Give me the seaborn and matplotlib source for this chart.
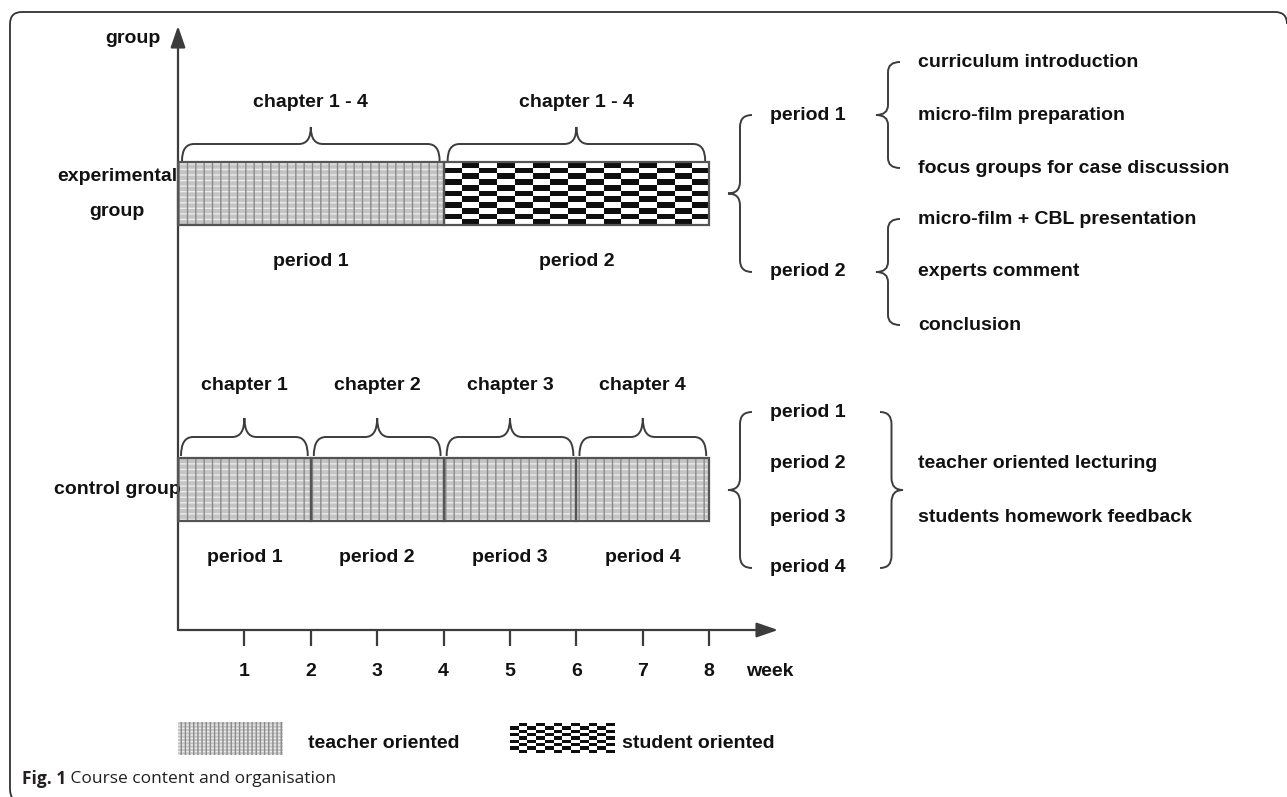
import numpy as np
import matplotlib.pyplot as plt
from matplotlib.path import Path
from matplotlib.patches import PathPatch
from matplotlib.colors import ListedColormap
import seaborn as sns

# ---- data -------------------------------------------------------------
weeks = [1, 2, 3, 4, 5, 6, 7, 8]

exp_start = [0, 4]
exp_length = [4, 4]
exp_mode = ["teacher", "student"]
exp_chapters = ["chapter 1 - 4", "chapter 1 - 4"]
exp_periods = ["period 1", "period 2"]
exp_content = [["curriculum introduction", "micro-film preparation", "focus groups for case discussion"],
               ["micro-film + CBL presentation", "experts comment", "conclusion"]]

ctrl_start = [0, 2, 4, 6]
ctrl_length = [2, 2, 2, 2]
ctrl_mode = ["teacher", "teacher", "teacher", "teacher"]
ctrl_chapters = ["chapter 1", "chapter 2", "chapter 3", "chapter 4"]
ctrl_periods = ["period 1", "period 2", "period 3", "period 4"]
ctrl_content = ["teacher oriented lecturing", "students homework feedback"]

group_labels = ["experimental\ngroup", "control group"]
legend_labels = ["teacher oriented", "student oriented"]

# ---- layout -----------------------------------------------------------
W, H = 1287, 797
X0, SX = 178, 66.4          # pixel of week 0, pixels per week
LINE = "#3c3c3c"
FS = 14

sns.set_theme(style="white")
plt.rcParams["font.family"] = ["Liberation Sans", "DejaVu Sans"]
plt.rcParams["hatch.linewidth"] = 1.0

fig = plt.figure(figsize=(W / 100, H / 100), dpi=100)
canvas = fig.add_axes([0, 0, 1, 1])
canvas.set_xlim(0, W)
canvas.set_ylim(H, 0)
canvas.axis("off")
ax = fig.add_axes([0, 0, 1, 1])
ax.patch.set_alpha(0)


def wk(px):
    return (px - X0) / SX


def px(w):
    return X0 + SX * w


def label(x, y, s, ha="center", **kw):
    ax.text(x, y, s, fontsize=FS, fontweight="bold", color="#111111",
            ha=ha, va="center", **kw)


def brace(p0, p1, tip, depth, r=10):
    p0 = np.array(p0, float)
    p1 = np.array(p1, float)
    L = np.hypot(*(p1 - p0))
    u = (p1 - p0) / L
    n = np.array(tip, float)
    h = depth / 2
    local = [(0, 0), (0, h), (r, h), (L / 2 - r, h), (L / 2, h), (L / 2, depth),
             (L / 2, h), (L / 2 + r, h), (L - r, h), (L, h), (L, 0)]
    pts = [p0 + s * u + t * n for s, t in local]
    verts = [(wk(x), y) for x, y in pts]
    codes = [Path.MOVETO, Path.CURVE3, Path.CURVE3, Path.LINETO, Path.CURVE3, Path.CURVE3,
             Path.CURVE3, Path.CURVE3, Path.LINETO, Path.CURVE3, Path.CURVE3]
    ax.add_patch(PathPatch(Path(verts, codes), fill=False, ec=LINE, lw=1.4))


def bar(y, left, width, height, mode, outline=True, cell=(17.7, 5.7), fine=False):
    if mode == "teacher":
        ax.barh(y, width, left=left, height=height, color="#c4c4c4",
                edgecolor="#ececec", linewidth=0, hatch="-----" if fine else "---", zorder=1)
        ax.barh(y, width, left=left, height=height, color="none",
                edgecolor="#8a8a8a", linewidth=0, hatch="||||" if fine else "||", zorder=1.5)
    else:
        b = ax.barh(y, width, left=left, height=height, color="white", linewidth=0, zorder=1)
        cols = max(1, int(round(width * SX / cell[0])))
        rows = max(1, int(round(height / cell[1])))
        board = np.indices((rows, cols)).sum(axis=0) % 2
        im = ax.imshow(board, cmap=ListedColormap(["white", "#0e0e0e"]),
                       extent=(left, left + width, y + height / 2, y - height / 2),
                       aspect="auto", interpolation="nearest", zorder=2)
        im.set_clip_path(b[0])
    if outline:
        ax.barh(y, width, left=left, height=height, fill=False,
                edgecolor="#555555", linewidth=1.6, zorder=3)


# ---- frame: left and top edges with rounded corners -------------------
frame = Path([(24, 803), (10, 803), (10, 789), (10, 24), (10, 12), (22, 12),
              (1275, 12), (1287, 12), (1287, 24)],
             [Path.MOVETO, Path.CURVE3, Path.CURVE3, Path.LINETO, Path.CURVE3, Path.CURVE3,
              Path.LINETO, Path.CURVE3, Path.CURVE3])
canvas.add_patch(PathPatch(frame, fill=False, ec="#333333", lw=1.3))

# ---- axes -------------------------------------------------------------
AXY = 630
arrow = dict(arrowstyle="-|>,head_length=1.3,head_width=0.45", color=LINE, lw=1.6,
             shrinkA=0, shrinkB=0, mutation_scale=10)
ax.annotate("", xy=(0, 26), xytext=(0, AXY), arrowprops=arrow)
ax.annotate("", xy=(wk(778), AXY), xytext=(0, AXY), arrowprops=arrow)
ax.vlines(weeks, AXY, AXY + 16, color=LINE, lw=1.6)
for w in weeks:
    label(w, AXY + 42, str(w))
label(wk(770), AXY + 42, "week")
label(wk(160), 38, "group", ha="right")

# ---- experimental group -------------------------------------------------
YE, BH = 193.5, 63
for k, line in enumerate(group_labels[0].split("\n")):
    label(wk(117), YE - 17 + 35 * k, line)
for s, l, m, ch, pe in zip(exp_start, exp_length, exp_mode, exp_chapters, exp_periods):
    bar(YE, s, l, BH, m)
    brace((px(s) + 4, YE - BH / 2 - 1), (px(s + l) - 4, YE - BH / 2 - 1), (0, -1), 34, r=12)
    label(s + l / 2, 102, ch)
    label(s + l / 2, 262, pe)

exp_rows = [115, 272]
brace((752, exp_rows[0]), (752, exp_rows[1]), (-1, 0), 24, r=12)
for yy, pe, items in zip(exp_rows, exp_periods, exp_content):
    label(wk(808), yy, pe)
    brace((900, yy - 53), (900, yy + 53), (-1, 0), 24, r=10)
    for k, it in enumerate(items):
        label(wk(918), yy + (k - 1) * 53, it, ha="left")

# ---- control group ----------------------------------------------------
YC = 489.5
label(wk(117), YC, group_labels[1])
for s, l, m, ch, pe in zip(ctrl_start, ctrl_length, ctrl_mode, ctrl_chapters, ctrl_periods):
    bar(YC, s, l, BH, m)
    brace((px(s) + 3, YC - BH / 2 - 2), (px(s + l) - 3, YC - BH / 2 - 2), (0, -1), 38, r=12)
    label(s + l / 2, 385, ch)
    label(s + l / 2, 557, pe)

ctrl_rows = [412, 463, 517, 568]
brace((752, ctrl_rows[0]), (752, ctrl_rows[-1]), (-1, 0), 24, r=12)
brace((880, ctrl_rows[0]), (880, ctrl_rows[-1]), (1, 0), 23, r=12)
for yy, pe in zip(ctrl_rows, ctrl_periods):
    label(wk(808), yy, pe)
for yy, it in zip(ctrl_rows[1:3], ctrl_content):
    label(wk(918), yy, it, ha="left")

# ---- legend -----------------------------------------------------------
LY = 738
bar(LY, wk(178), (283 - 178) / SX, 33, "teacher", outline=False, fine=True)
label(wk(308), LY + 5, legend_labels[0], ha="left")
bar(LY, wk(510), (615 - 510) / SX, 30, "student", outline=False, cell=(8.7, 3.4))
label(wk(622), LY + 5, legend_labels[1], ha="left")

# ---- caption ----------------------------------------------------------
cap = ax.text(wk(22), 779, "Fig. 1", fontsize=12.5, fontweight="bold", color="#231f20",
              family=["Open Sans", "DejaVu Sans"], va="center", ha="left")
ax.annotate(" Course content and organisation", xy=(1, 0.5), xycoords=cap, va="center",
            ha="left", fontsize=12.5, color="#231f20", family=["Open Sans", "DejaVu Sans"])

ax.set_xlim(wk(0), wk(W))
ax.set_ylim(H, 0)
ax.axis("off")

fig.savefig("out.png", dpi=100, facecolor="white")
